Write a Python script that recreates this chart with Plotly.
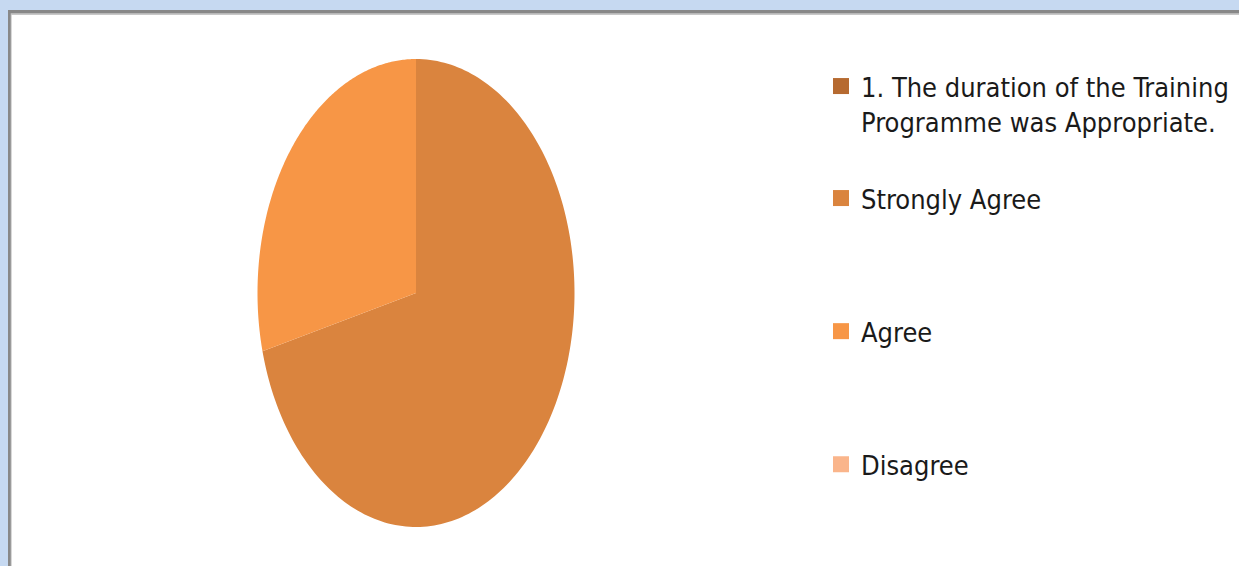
import numpy as np
import plotly.graph_objects as go

# ---- data ----
categories = ["1. The duration of the Training<br>Programme was Appropriate.",
              "Strongly Agree", "Agree", "Disagree"]
values = [0, 71, 29, 0]
colors = ["#B66A30", "#DA843E", "#F79646", "#FAB58B"]

W, H = 1239, 566
cx, cy, rx, ry = 416, 293, 158.5, 234

fig = go.Figure()

total = float(sum(values))
start = 0.0
for i, (cat, v, col) in enumerate(zip(categories, values, colors)):
    frac = v / total
    if frac > 0:
        th = np.linspace(start, start + frac, 200) * 2 * np.pi
        xs = np.concatenate([[cx], cx + rx * np.sin(th), [cx]])
        ys = np.concatenate([[cy], cy - ry * np.cos(th), [cy]])
        fig.add_trace(go.Scatter(x=xs, y=ys, mode="none", fill="toself",
                                 fillcolor=col, showlegend=False,
                                 hoverinfo="text", text=cat.replace("<br>", " ")))
    start += frac
    # legend entry
    fig.add_trace(go.Scatter(x=[None], y=[None], mode="markers",
                             marker=dict(symbol="square", size=16, color=col),
                             name=cat, legendgroup=str(i),
                             legend="legend" if i == 0 else "legend2"))

font_family = "DejaVu Sans Condensed, Liberation Sans Narrow, Roboto, sans-serif"
leg_common = dict(bgcolor="rgba(0,0,0,0)", font=dict(family=font_family, size=27, color="#1a1a1a"),
                  xanchor="left", yanchor="top", itemwidth=30)

fig.update_layout(
    width=W, height=H,
    margin=dict(l=0, r=0, t=0, b=0),
    paper_bgcolor="#C6D9F1",
    plot_bgcolor="rgba(0,0,0,0)",
    xaxis=dict(range=[0, W], visible=False, fixedrange=True),
    yaxis=dict(range=[H, 0], visible=False, fixedrange=True),
    legend=dict(x=821 / W, y=1 - 62 / H, valign="top", **leg_common),
    legend2=dict(x=821 / W, y=1 - 174 / H, tracegroupgap=95, valign="middle", **leg_common),
    shapes=[
        dict(type="rect", xref="paper", yref="paper", x0=8 / W, y0=1 - 10 / H, x1=1.01, y1=-0.01,
             fillcolor="#888888", line=dict(width=0), layer="below"),
        dict(type="rect", xref="paper", yref="paper", x0=10.7 / W, y0=1 - 13.3 / H, x1=1.01, y1=-0.01,
             fillcolor="#C8C8C8", line=dict(width=0), layer="below"),
        dict(type="rect", xref="paper", yref="paper", x0=11.7 / W, y0=1 - 15 / H, x1=1.01, y1=-0.01,
             fillcolor="#FFFFFF", line=dict(width=0), layer="below"),
    ],
)

fig.write_html(
    "out.html",
    config={"displayModeBar": False},
    post_script="document.body.style.margin='0';document.body.style.background='#C6D9F1';",
)
